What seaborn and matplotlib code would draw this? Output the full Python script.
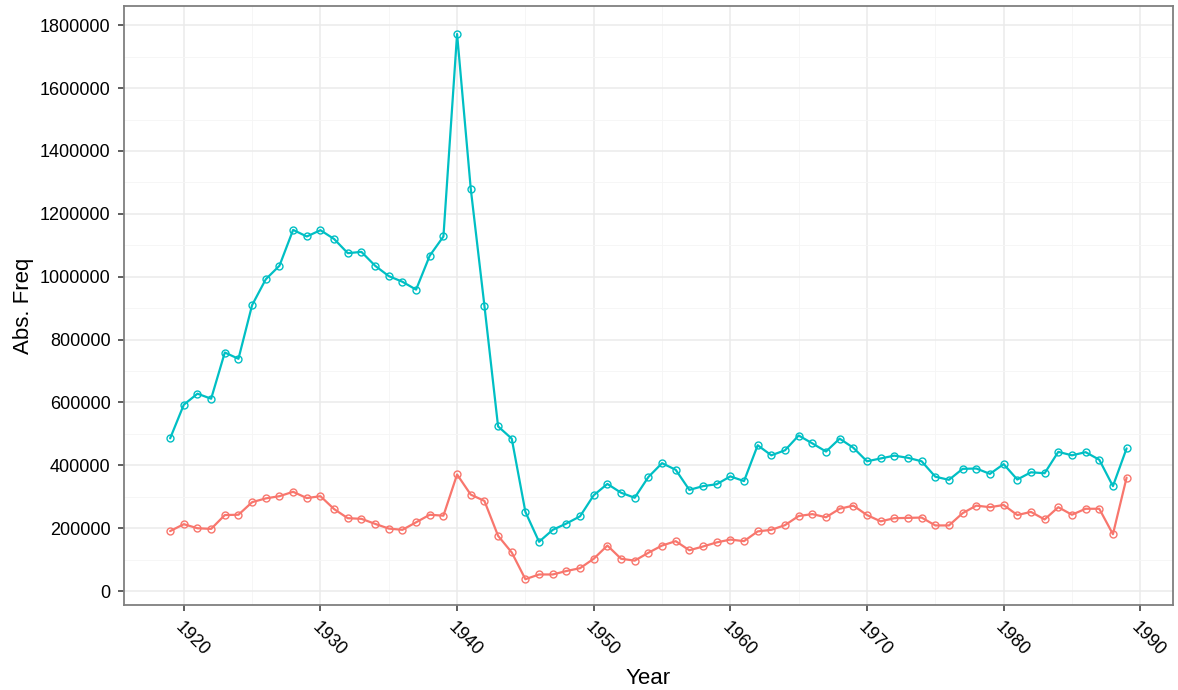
import numpy as np
import pandas as pd
import matplotlib
matplotlib.use("Agg")
import matplotlib.pyplot as plt
from matplotlib.ticker import MultipleLocator
import seaborn as sns

years = list(range(1919, 1990))

# teal series (upper line)
freq_teal = [486000, 593000, 628000, 612000, 759000, 739000, 910000, 992000, 1035000, 1149000,
             1128000, 1148000, 1120000, 1075000, 1079000, 1035000, 1002000, 984000, 959000, 1067000,
             1128000, 1772000, 1280000, 908000, 524000, 485000, 252000, 157000, 195000, 215000,
             238000, 305000, 341000, 313000, 297000, 363000, 407000, 386000, 322000, 334000,
             340000, 365000, 350000, 464000, 432000, 448000, 495000, 470000, 444000, 485000,
             456000, 413000, 422000, 431000, 424000, 413000, 364000, 354000, 389000, 390000,
             373000, 404000, 355000, 378000, 375000, 443000, 432000, 442000, 418000, 334000,
             454000]

# red series (lower line)
freq_red = [191000, 213000, 200000, 198000, 242000, 243000, 283000, 295000, 302000, 316000,
            296000, 302000, 261000, 232000, 230000, 214000, 199000, 195000, 219000, 243000,
            240000, 371000, 307000, 287000, 176000, 123000, 38000, 53000, 53000, 64000,
            73000, 103000, 145000, 103000, 97000, 122000, 145000, 159000, 130000, 142000,
            155000, 164000, 159000, 190000, 195000, 210000, 239000, 245000, 235000, 262000,
            272000, 242000, 222000, 232000, 233000, 234000, 209000, 209000, 248000, 272000,
            267000, 274000, 242000, 252000, 228000, 267000, 243000, 262000, 262000, 181000,
            361000]

teal = "#00BFC4"
red = "#F8766D"

sns.set_style("white")
plt.rcParams["font.family"] = ["Liberation Sans", "DejaVu Sans"]

fig = plt.figure(figsize=(11.78, 6.9), dpi=100)
ax = fig.add_axes([0.105, 0.123, 0.8908, 0.868])

df_red = pd.DataFrame({"Year": years, "Freq": freq_red})
df_teal = pd.DataFrame({"Year": years, "Freq": freq_teal})

for d, c in [(df_red, red), (df_teal, teal)]:
    sns.lineplot(data=d, x="Year", y="Freq", ax=ax, color=c, linewidth=1.6,
                 marker="o", markersize=5, markerfacecolor="none",
                 markeredgecolor=c, markeredgewidth=1.0, zorder=3)

ax.set_xlim(1915.6, 1992.4)
ax.set_ylim(-44500, 1860400)
ax.xaxis.set_major_locator(MultipleLocator(10))
ax.xaxis.set_minor_locator(MultipleLocator(5))
ax.yaxis.set_major_locator(MultipleLocator(200000))
ax.yaxis.set_minor_locator(MultipleLocator(100000))
ax.yaxis.set_major_formatter(matplotlib.ticker.FuncFormatter(lambda v, p: f"{int(v)}"))

ax.grid(which="major", color="#EBEBEB", linewidth=1.1, zorder=0)
ax.grid(which="minor", color="#F5F5F5", linewidth=0.6, zorder=0)
ax.set_axisbelow(True)

for s in ax.spines.values():
    s.set_color("#7F7F7F")
    s.set_linewidth(1.3)

ax.tick_params(axis="both", which="major", length=4.5, width=1.1, color="#333333",
               labelsize=13, labelcolor="black", bottom=True, left=True,
               direction="out")
ax.tick_params(axis="both", which="minor", length=0)
ax.tick_params(axis="y", pad=5)
for lbl in ax.get_xticklabels():
    lbl.set_rotation(-45)
    lbl.set_ha("left")
    lbl.set_va("top")
    lbl.set_rotation_mode("anchor")
ax.tick_params(axis="x", pad=5)

ax.set_xlabel("Year", fontsize=16, labelpad=6.5, color="black")
ax.set_ylabel("Abs. Freq", fontsize=16, labelpad=4, color="black")

fig.savefig("out.png", dpi=100)
